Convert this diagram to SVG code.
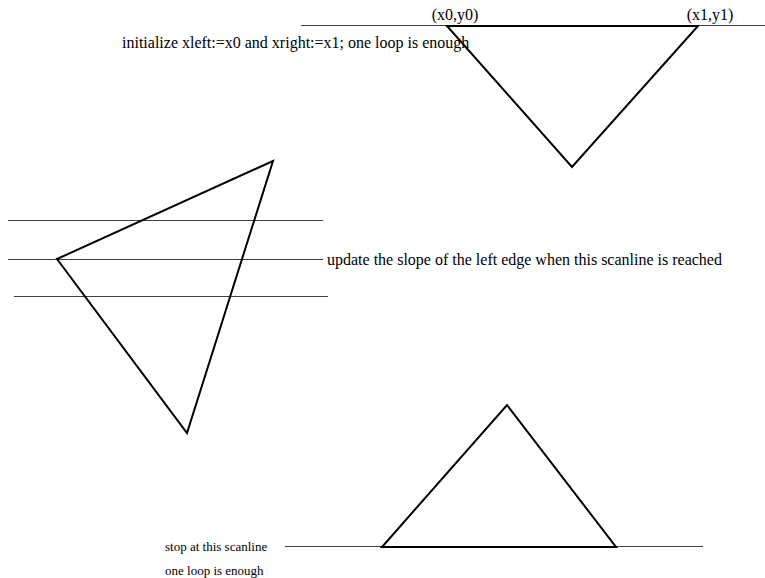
<svg xmlns="http://www.w3.org/2000/svg" width="765" height="578" viewBox="0 0 765 578">
<style>
.scan{stroke:#404040;stroke-width:1;fill:none}
.tri{stroke:#000;stroke-width:2;fill:none;stroke-linejoin:miter}
.t{font-family:"Liberation Serif","Times New Roman",serif;fill:#000}
</style>
<rect width="765" height="578" fill="#fff"/>
<g id="connectors">
<line class="scan" x1="301" y1="25.5" x2="765" y2="25.5"/>
<line class="scan" x1="8" y1="220.5" x2="323" y2="220.5"/>
<line class="scan" x1="8" y1="259.5" x2="323" y2="259.5"/>
<line class="scan" x1="14" y1="296.5" x2="328" y2="296.5"/>
<line class="scan" x1="285" y1="546.5" x2="703" y2="546.5"/>
</g>
<g id="tri-top">
<polygon class="tri" points="447,26 698,26 572,167"/>
<text class="t" x="455" y="20" font-size="16" text-anchor="middle">(x0,y0)</text>
<text class="t" x="710" y="20" font-size="16" text-anchor="middle">(x1,y1)</text>
<text class="t" x="122" y="48" font-size="16">initialize xleft:=x0 and xright:=x1; one loop is enough</text>
</g>
<g id="tri-mid">
<polygon class="tri" points="273,161 57,259 187,433"/>
<text class="t" x="327" y="265" font-size="16">update the slope of the left edge when this scanline is reached</text>
</g>
<g id="tri-bot">
<polygon class="tri" points="507,405 616,547 382,547"/>
<text class="t" x="165" y="551" font-size="13">stop at this scanline</text>
<text class="t" x="165" y="575" font-size="13">one loop is enough</text>
</g>
</svg>
